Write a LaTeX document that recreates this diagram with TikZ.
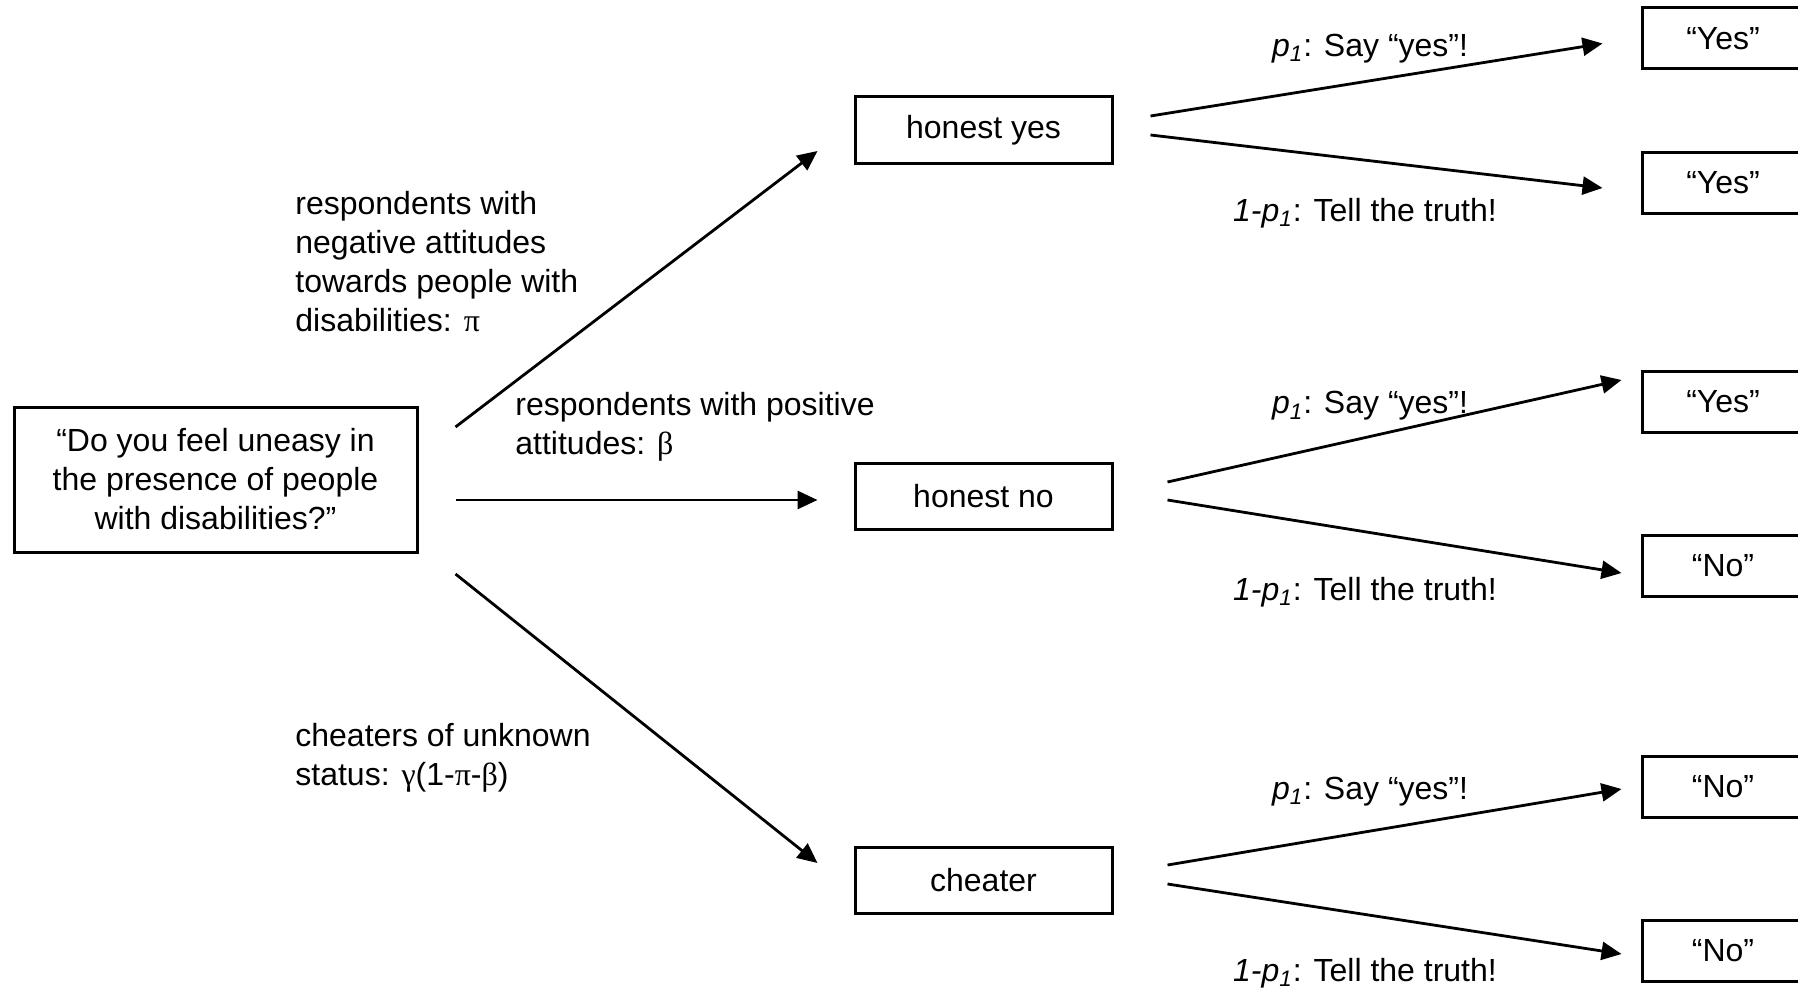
\documentclass[tikz,border=0pt]{standalone}
\usepackage{fontspec}
\setmainfont{Liberation Sans}
\newfontfamily\grk{Liberation Serif}
\usetikzlibrary{arrows.meta}

% probability labels
\newcommand\psub{\textit{p}\textsubscript{\textit{1}}}
\newcommand\qsub{\textit{1-p}\textsubscript{\textit{1}}}

\begin{document}
\begin{tikzpicture}[x=0.5pt,y=-0.5pt,
  txt/.style={font=\fontsize{16}{19.5}\selectfont},
  qbox/.style={txt, draw, line width=1.5pt, inner sep=0pt, align=center,
    minimum width=201.5pt, minimum height=72.5pt},
  mbox/.style={txt, draw, line width=1.5pt, inner sep=0pt,
    minimum width=128.5pt, minimum height=33pt},
  rbox/.style={txt, draw, line width=1.5pt, inner sep=0pt,
    minimum width=81pt, minimum height=30.5pt},
  lbl/.style={txt, inner sep=0pt, align=left, anchor=west},
  plbl/.style={txt, inner sep=0pt},
  arr/.style={line width=1.4pt, -{Triangle[length=10pt,width=9pt]}}]

\useasboundingbox (0,0) rectangle (1798,990);
\clip (0,0) rectangle (1798,990);

% question and first-level outcomes
\node[qbox] (q) at (215.5,479.5) {“Do you feel uneasy in\\the presence of people\\with disabilities?”};
\node[mbox] (hy) at (983.5,130) {honest yes};
\node[mbox] (hn) at (983.5,496) {honest no};
\node[mbox] (ch) at (983.5,880) {cheater};

% final answers
\node[rbox] (r1) at (1723,38.5) {“Yes”};
\node[rbox] (r2) at (1723,183) {“Yes”};
\node[rbox] (r3) at (1723,402) {“Yes”};
\node[rbox] (r4) at (1723,566) {“No”};
\node[rbox] (r5) at (1723,787) {“No”};
\node[rbox] (r6) at (1723,951) {“No”};

% branches from the question
\draw[arr] ([shift={(37,-52.5)}]q.east) -- ([shift={(-36,21)}]hy.west);
\draw[arr] ([shift={(37,20.5)}]q.east) -- ([shift={(-36,4)}]hn.west);
\draw[arr] ([shift={(37,94.5)}]q.east) -- ([shift={(-36,-17)}]ch.west);

% second-level branches
\draw[arr] ([shift={(37,-14)}]hy.east) -- ([shift={(-38,5)}]r1.west);
\draw[arr] ([shift={(37,5)}]hy.east) -- ([shift={(-38,5)}]r2.west);
\draw[arr] ([shift={(54,-14)}]hn.east) -- ([shift={(-19,-22)}]r3.west);
\draw[arr] ([shift={(54,4)}]hn.east) -- ([shift={(-19,7)}]r4.west);
\draw[arr] ([shift={(54,-15)}]ch.east) -- ([shift={(-19,2)}]r5.west);
\draw[arr] ([shift={(54,4)}]ch.east) -- ([shift={(-19,3)}]r6.west);

% group labels
\node[lbl] (l1) at (295,261.5) {respondents with\\negative attitudes\\towards people with\\disabilities: {\grk π}};
\node[lbl] (l2) at (515,427) {respondents with positive\\attitudes: {\grk β}};
\node[lbl] (l3) at (295,757.5) {cheaters of unknown\\status: {\grk γ}(1-{\grk π}-{\grk β})};

% instruction labels
\node[plbl] (s1) at (1370,48.5) {\psub: Say “yes”!};
\node[plbl] (t1) at (1365,213.5) {\qsub: Tell the truth!};
\node[plbl] (s2) at (1370,406) {\psub: Say “yes”!};
\node[plbl] (t2) at (1365,592.5) {\qsub: Tell the truth!};
\node[plbl] (s3) at (1370,791.5) {\psub: Say “yes”!};
\node[plbl] (t3) at (1365,973) {\qsub: Tell the truth!};
\end{tikzpicture}
\end{document}
